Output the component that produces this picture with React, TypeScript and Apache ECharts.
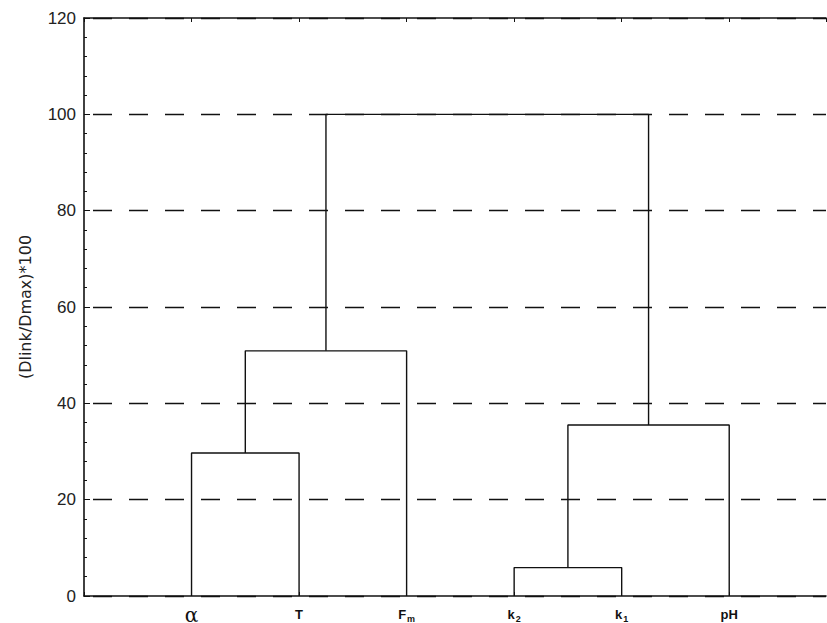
import React, { useEffect, useRef } from "react";
import * as echarts from "echarts";

// Leaves (order along the x axis)
const leafLabels = ["alpha", "T", "Fm", "k2", "k1", "pH"];
// Merges: node ids 0..5 are leaves, 6.. are clusters in merge order
const mergeLeft = [0, 6, 3, 8, 7];
const mergeRight = [1, 2, 4, 5, 9];
const mergeHeight = [29.7, 50.9, 5.9, 35.5, 100];
const yTicks = [0, 20, 40, 60, 80, 100, 120];

const labelFormat: Record<string, string> = {
  alpha: "{a|α}",
  T: "{b|T}",
  Fm: "{b|F}{s|m}",
  k2: "{b|k}{s|2}",
  k1: "{b|k}{s|1}",
  pH: "{b|pH}",
};

function buildLinks() {
  const nodeX: number[] = leafLabels.map((_, i) => i + 1);
  const nodeY: number[] = leafLabels.map(() => 0);
  const links: number[][][] = [];
  mergeLeft.forEach((l, i) => {
    const r = mergeRight[i];
    const h = mergeHeight[i];
    links.push([
      [nodeX[l], nodeY[l]],
      [nodeX[l], h],
      [nodeX[r], h],
      [nodeX[r], nodeY[r]],
    ]);
    nodeX.push((nodeX[l] + nodeX[r]) / 2);
    nodeY.push(h);
  });
  return links;
}

export default function App() {
  const ref = useRef<HTMLDivElement>(null);
  useEffect(() => {
    if (!ref.current) return;
    const chart = echarts.init(ref.current, null, { renderer: "svg" });
    const links = buildLinks();
    const axisColor = "#111";
    chart.setOption({
      animation: false,
      backgroundColor: "#fff",
      grid: { left: 84, right: 1, top: 18, bottom: 27, containLabel: false, outerBoundsMode: "none" },
      xAxis: [
        {
          type: "value",
          min: 0,
          max: 6.9,
          interval: 1,
          position: "bottom",
          axisLine: { show: true, lineStyle: { color: axisColor, width: 1.6 } },
          axisTick: { show: true, inside: true, length: 4, lineStyle: { color: axisColor } },
          splitLine: { show: false },
          axisLabel: {
            margin: 11,
            showMaxLabel: false,
            formatter: (v: number) => {
              const i = Math.round(v) - 1;
              if (Math.abs(v - Math.round(v)) > 1e-6 || i < 0 || i >= leafLabels.length) return "";
              return labelFormat[leafLabels[i]];
            },
            rich: {
              a: { fontFamily: "DejaVu Serif", fontSize: 20, lineHeight: 16, color: "#111", verticalAlign: "middle" },
              b: { fontFamily: "Liberation Sans", fontWeight: "bold", fontSize: 13, lineHeight: 14, color: "#111", verticalAlign: "bottom" },
              s: { fontFamily: "Liberation Sans", fontWeight: "bold", fontSize: 9, lineHeight: 14, color: "#111", verticalAlign: "bottom", padding: [0, 0, -2, 1] },
            },
          },
        },
        {
          type: "value",
          min: 0,
          max: 6.9,
          interval: 1,
          position: "top",
          axisLine: { show: true, lineStyle: { color: axisColor, width: 1.6 } },
          axisTick: { show: true, inside: true, length: 4, lineStyle: { color: axisColor } },
          axisLabel: { show: false },
          splitLine: { show: false },
          z: 10,
        },
      ],
      yAxis: {
        type: "value",
        min: 0,
        max: 120,
        interval: 20,
        name: "(Dlink/Dmax)*100",
        nameLocation: "middle",
        nameGap: 51,
        nameTextStyle: { fontFamily: "DejaVu Sans", fontSize: 16, color: "#222" },
        axisLine: { show: true, lineStyle: { color: axisColor, width: 1.6 } },
        axisTick: { show: true, inside: true, length: 6, lineStyle: { color: axisColor } },
        minorTick: { show: true, splitNumber: 5, length: 3, lineStyle: { color: axisColor } },
        axisLabel: {
          margin: 8,
          fontFamily: "Liberation Sans",
          fontSize: 17,
          color: "#222",
          formatter: (v: number) => (yTicks.includes(v) ? String(v) : ""),
        },
        splitLine: {
          show: true,
          lineStyle: { color: "#111", width: 1.3, type: [19, 17], dashOffset: 27 },
        },
      },
      series: links.map((pts) => ({
        type: "line",
        data: pts,
        showSymbol: false,
        symbol: "none",
        silent: true,
        lineStyle: { color: "#111", width: 1.4 },
        z: 5,
      })),
    });
    return () => chart.dispose();
  }, []);
  return (
    <div
      ref={ref}
      style={{ position: "fixed", left: 0, top: 0, width: 827, height: 623 }}
    />
  );
}
